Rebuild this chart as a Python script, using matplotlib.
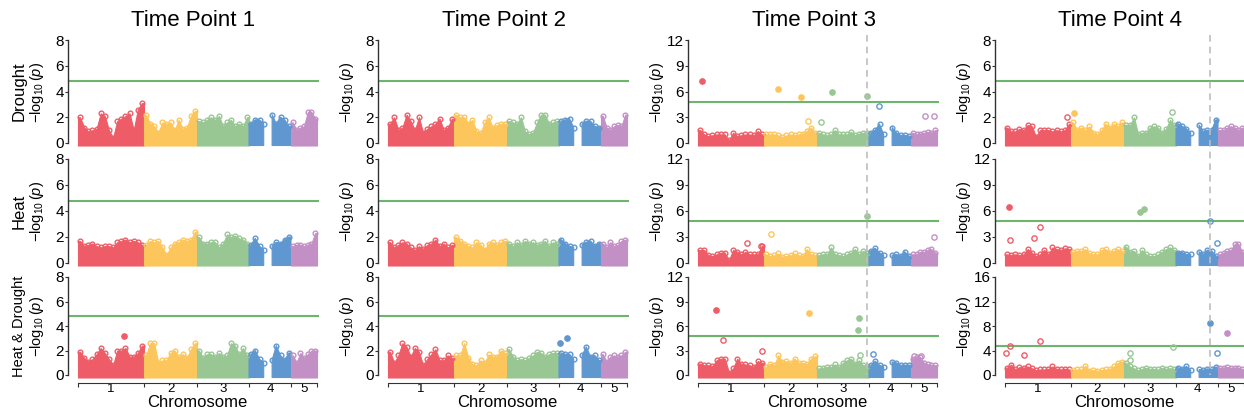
import numpy as np
import matplotlib
matplotlib.use("Agg")
import matplotlib.pyplot as plt
from matplotlib.transforms import blended_transform_factory

plt.rcParams["mathtext.fontset"] = "custom"
plt.rcParams["mathtext.rm"] = "Liberation Sans"
plt.rcParams["mathtext.it"] = "Liberation Sans:italic"

nan = np.nan

# ---- genome layout -------------------------------------------------------
chrom_names = ["1", "2", "3", "4", "5"]
chrom_len = [66, 53, 52, 42, 26]          # relative marker span per chromosome
chrom_colors = ["#EE5D67", "#FDC65C", "#98C794", "#5F97D0", "#C390C6"]

time_points = ["Time Point 1", "Time Point 2", "Time Point 3", "Time Point 4"]
treatments = ["Drought", "Heat", "Heat & Drought"]
treatment_fontsize = [12, 12, 10.5]
threshold = 4.8

# y-axis maximum per (treatment, time point)
y_max = [[8, 8, 12, 8],
         [8, 8, 12, 12],
         [8, 8, 12, 16]]

# marked lead SNP per time point: (chromosome index, position)
lead_snp = [None, None, (2, 49.7), (3, 33.9)]

# ---- upper -log10(p) envelope: per chromosome, evenly spaced bins ----------
drought_tp1 = [
    [2.0, 1.2, 0.9, 1.0, 1.1, 2.3, 2.1, 1.0, 0.4, 1.7, 1.9, 2.1, 2.3, 1.0, 2.6, 3.1],
    [2.2, 1.5, 1.3, 0.8, 1.6, 1.5, 1.6, 1.0, 1.8, 1.1, 1.2, 2.1, 2.5],
    [1.7, 1.6, 1.8, 2.0, 1.8, 2.1, 1.3, 1.6, 1.8, 1.3, 1.5, 1.3, 2.0],
    [1.5, 1.8, 1.8, 1.5, nan, 2.2, 1.5, 2.0, 1.8, 1.3],
    [1.6, 1.0, 1.2, 1.3, 2.4, 2.4, 1.9],
]
heat_tp1 = [
    [1.7, 1.3, 1.4, 1.5, 1.3, 1.2, 1.3, 1.3, 1.2, 1.6, 1.7, 1.8, 1.6, 1.7, 1.6, 1.4],
    [1.4, 1.7, 1.6, 1.7, 1.2, 0.6, 1.2, 1.5, 1.6, 1.8, 1.7, 1.8, 2.4],
    [2.0, 1.5, 1.5, 1.6, 1.6, 1.2, 1.5, 2.2, 2.0, 2.1, 1.9, 1.8, 1.5],
    [1.4, 1.9, 1.3, 1.0, nan, 1.3, 1.6, 1.5, 1.8, 2.0],
    [1.3, 1.4, 1.4, 1.3, 1.4, 1.5, 2.3],
]
heatdrought_tp1 = [
    [1.9, 1.4, 1.1, 1.3, 1.7, 2.2, 1.8, 1.3, 0.8, 2.0, 2.0, 2.2, 1.5, 1.5, 1.8, 2.4],
    [1.6, 2.6, 2.6, 1.0, 1.2, 1.2, 1.8, 2.0, 1.5, 1.7, 1.4, 2.1, 2.6],
    [2.0, 1.4, 1.7, 1.7, 1.5, 1.8, 1.5, 1.6, 2.6, 2.4, 1.7, 2.2, 1.6],
    [1.7, 2.0, 1.3, 1.0, nan, 1.2, 2.4, 1.6, 1.2, 1.8],
    [1.6, 1.0, 1.8, 1.4, 1.7, 2.0, 2.0],
]
drought_tp2 = [
    [1.5, 2.0, 1.0, 1.2, 2.2, 1.7, 1.0, 2.0, 0.8, 1.1, 1.3, 1.5, 1.9, 1.0, 1.2, 1.9],
    [2.2, 2.0, 2.0, 1.5, 1.8, 0.9, 0.8, 1.6, 2.0, 1.2, 1.4, 1.5, 1.5],
    [1.7, 1.6, 1.5, 2.0, 0.9, 0.7, 0.8, 1.6, 2.2, 2.2, 1.5, 1.6, 1.7],
    [1.7, 1.8, 1.9, 1.2, nan, 1.5, 1.7, 1.7, 1.3, 1.2],
    [2.1, 1.2, 1.0, 1.3, 1.4, 1.3, 2.2],
]
heat_tp2 = [
    [1.6, 1.2, 1.4, 1.6, 1.5, 1.2, 1.0, 1.3, 1.1, 1.4, 1.5, 1.8, 1.3, 1.5, 1.2, 1.4],
    [2.0, 1.7, 1.5, 1.3, 1.2, 1.6, 1.4, 1.0, 1.5, 1.6, 1.4, 1.6, 1.7],
    [1.5, 1.3, 1.6, 1.4, 1.7, 1.5, 1.6, 1.4, 1.5, 1.7, 1.3, 1.6, 1.5],
    [1.8, 1.5, 1.3, 1.2, nan, 1.4, 1.6, 1.7, 1.3, 1.5],
    [1.5, 1.2, 1.6, 1.3, 1.4, 1.7, 1.8],
]
heatdrought_tp2 = [
    [1.9, 1.0, 1.6, 2.6, 2.3, 1.5, 2.2, 1.9, 0.8, 1.3, 1.7, 2.1, 1.2, 1.2, 1.6, 1.4],
    [1.6, 1.6, 2.6, 1.4, 0.9, 0.8, 1.2, 1.0, 1.7, 1.5, 1.5, 2.0, 1.8],
    [2.1, 1.5, 1.2, 1.3, 1.2, 1.4, 1.6, 1.9, 1.8, 1.5, 1.7, 1.8, 1.8],
    [1.8, 1.7, 1.7, 1.3, nan, 1.6, 2.3, 1.5, 1.6, 1.2],
    [1.7, 1.1, 1.5, 1.6, 1.5, 1.6, 1.9],
]
drought_tp3 = [
    [1.5, 1.0, 0.8, 0.9, 1.0, 1.0, 1.0, 0.3, 1.2, 0.8, 0.9, 1.0, 1.0, 0.9, 1.4, 1.0],
    [1.0, 1.0, 1.0, 0.9, 0.7, 0.9, 1.0, 0.9, 1.0, 1.1, 1.4, 1.8, 1.2],
    [1.2, 1.0, 0.9, 1.0, 1.5, 1.0, 1.0, 1.0, 1.3, 0.9, 1.1, 1.2, 1.2],
    [1.2, 1.5, 2.2, 1.0, nan, 1.8, 1.2, 0.9, 0.9, 0.8],
    [1.2, 1.0, 1.1, 1.2, 1.3, 1.2, 1.5],
]
heat_tp3 = [
    [1.5, 1.5, 0.9, 0.8, 1.0, 1.2, 1.2, 0.3, 1.5, 1.3, 1.0, 1.3, 1.0, 1.0, 1.0, 2.0],
    [1.0, 0.8, 0.9, 1.1, 0.7, 0.8, 0.9, 1.1, 0.9, 0.8, 1.6, 1.0, 0.9],
    [0.9, 1.0, 1.0, 1.8, 1.0, 0.9, 0.8, 1.0, 1.2, 1.6, 1.0, 1.4, 1.2],
    [1.4, 1.7, 1.2, 0.9, nan, 0.9, 1.0, 0.8, 1.3, 0.8],
    [1.0, 1.0, 1.3, 1.3, 1.5, 1.6, 1.2],
]
heatdrought_tp3 = [
    [1.4, 1.2, 1.2, 1.1, 1.8, 2.0, 2.0, 0.3, 0.8, 2.0, 1.3, 1.3, 1.2, 1.0, 1.7, 1.5],
    [1.0, 1.4, 1.2, 2.4, 1.6, 1.7, 1.5, 2.0, 1.5, 1.5, 1.3, 2.0, 2.3],
    [0.8, 0.9, 1.0, 1.0, 1.3, 1.0, 1.5, 1.8, 2.0, 1.4, 1.8, 1.2, 1.1],
    [1.2, 1.7, 1.2, 1.0, nan, 1.6, 1.5, 1.2, 1.2, 1.2],
    [2.0, 2.2, 2.2, 1.5, 1.3, 1.2, 1.2],
]
drought_tp4 = [
    [1.2, 0.9, 0.9, 1.1, 1.0, 1.4, 1.3, 0.5, 1.0, 1.0, 1.0, 0.9, 1.0, 0.9, 1.0, 1.5],
    [1.6, 1.0, 1.2, 1.0, 1.3, 0.8, 0.7, 1.0, 1.5, 1.2, 1.5, 1.3, 1.6],
    [1.4, 1.4, 2.0, 0.7, 0.8, 0.8, 1.2, 1.3, 1.2, 0.8, 1.1, 1.8, 1.4],
    [1.5, 1.3, 1.1, 0.8, nan, 1.4, 0.9, 1.0, 1.0, 1.8],
    [1.0, 1.0, 1.2, 1.3, 1.2, 1.0, 1.2],
]
heat_tp4 = [
    [1.0, 0.9, 1.0, 0.9, 1.0, 1.6, 1.2, 0.8, 1.0, 1.5, 1.0, 1.8, 1.6, 1.5, 1.7, 1.6],
    [1.3, 1.4, 1.4, 1.6, 1.1, 1.0, 1.0, 1.5, 1.6, 1.2, 1.4, 1.6, 1.4],
    [1.9, 1.3, 1.4, 0.8, 1.5, 1.0, 0.8, 0.8, 1.0, 1.3, 1.6, 1.8, 1.5],
    [1.2, 1.2, 1.0, 1.0, nan, 1.3, 1.0, 1.5, 1.4, 0.8],
    [1.0, 1.2, 1.4, 1.5, 2.2, 2.2, 1.3],
]
heatdrought_tp4 = [
    [1.2, 1.7, 0.9, 1.3, 1.2, 1.4, 1.1, 0.8, 0.9, 0.9, 1.0, 1.4, 1.0, 0.9, 1.0, 0.9],
    [0.8, 0.9, 0.9, 1.5, 0.7, 0.8, 0.7, 0.8, 0.9, 1.0, 1.4, 2.0, 2.2],
    [2.0, 1.4, 1.1, 0.8, 1.0, 1.2, 1.0, 1.0, 0.9, 1.2, 1.0, 1.1, 1.0],
    [1.2, 1.0, 1.4, 0.8, nan, 0.9, 0.8, 1.0, 0.9, 1.3],
    [1.2, 1.2, 1.3, 1.2, 1.2, 1.2, 1.0],
]

# ---- individual SNPs standing out: (chromosome index, position, -log10 p, significant)
hits_heatdrought_tp1 = [(0, 46.1, 3.2, True)]
hits_heatdrought_tp2 = [(3, 1.0, 2.65, True), (3, 8.3, 3.0, True)]
hits_drought_tp3 = [(0, 4.0, 7.2, True), (1, 14.3, 6.3, True), (1, 37.3, 5.4, True),
                    (1, 44.0, 2.6, False), (2, 4.4, 2.4, False), (2, 15.4, 5.9, True),
                    (2, 49.7, 5.5, True), (3, 9.7, 4.3, False), (4, 13.5, 3.1, False),
                    (4, 23.0, 3.1, False)]
hits_heat_tp3 = [(0, 48.7, 2.3, False), (0, 63.3, 2.0, False), (1, 7.3, 3.3, False),
                 (2, 49.7, 5.4, True), (4, 23.3, 3.0, False)]
hits_heatdrought_tp3 = [(0, 18.3, 8.0, True), (0, 25.0, 4.3, False), (0, 64.0, 2.9, False),
                        (1, 45.0, 7.6, True), (2, 41.6, 7.0, True), (2, 40.6, 5.45, True),
                        (2, 43.3, 2.5, False), (3, 4.3, 2.6, False), (4, 3.4, 2.3, False),
                        (4, 9.5, 2.3, False)]
hits_drought_tp4 = [(0, 62.0, 2.0, False), (1, 3.4, 2.3, True), (2, 48.4, 2.4, False)]
hits_heat_tp4 = [(0, 4.0, 6.5, True), (0, 5.3, 2.7, False), (0, 29.2, 2.9, False),
                 (0, 34.8, 4.1, False), (2, 16.1, 5.9, True), (2, 20.1, 6.2, True),
                 (3, 33.9, 4.9, False), (3, 40.6, 2.3, False)]
hits_heatdrought_tp4 = [(0, 1.3, 3.6, False), (0, 5.3, 4.7, False), (0, 18.6, 3.3, False),
                        (0, 35.5, 5.6, False), (2, 5.9, 3.6, False), (2, 6.3, 2.5, False),
                        (2, 49.0, 4.5, False), (3, 33.9, 8.5, True), (3, 40.6, 3.6, False),
                        (4, 9.0, 6.8, True)]

envelopes = [[drought_tp1, drought_tp2, drought_tp3, drought_tp4],
             [heat_tp1, heat_tp2, heat_tp3, heat_tp4],
             [heatdrought_tp1, heatdrought_tp2, heatdrought_tp3, heatdrought_tp4]]
hits = [[[], [], hits_drought_tp3, hits_drought_tp4],
        [[], [], hits_heat_tp3, hits_heat_tp4],
        [hits_heatdrought_tp1, hits_heatdrought_tp2, hits_heatdrought_tp3, hits_heatdrought_tp4]]

# ---- figure ---------------------------------------------------------------
W, H = 1244, 417
fig = plt.figure(figsize=(W / 100, H / 100), dpi=100)

chrom_start = np.concatenate([[0], np.cumsum(chrom_len)[:-1]])
genome_len = float(np.sum(chrom_len))

col_left = [68, 378, 688, 995]                 # pixel x of the y-axis line
row_px = [(40, 143), (159, 263), (277, 375)]   # pixel y of ymax and of 0
ax_w = 251
x_lo = -10.0

FONT = "Liberation Sans"

axes = {}
for r in range(3):
    for c in range(4):
        ytop, y0 = row_px[r]
        ym = y_max[r][c]
        s = (y0 - ytop) / ym
        top_px, bot_px = ytop - 3, y0 + 5
        ax_h = bot_px - top_px
        ax = fig.add_axes([col_left[c] / W, 1 - bot_px / H, ax_w / W, ax_h / H])
        ax.set_xlim(x_lo, x_lo + ax_w)
        ax.set_ylim(-5 / s, ym + 3 / s)
        axes[(r, c)] = ax

        base = -2.5 / s
        env = envelopes[r][c]
        for k in range(5):
            vals = np.asarray(env[k], dtype=float)
            n = len(vals)
            centers = chrom_start[k] + (np.arange(n) + 0.5) * chrom_len[k] / n
            xs = np.concatenate([[chrom_start[k]], centers, [chrom_start[k] + chrom_len[k]]])
            ys = np.concatenate([[vals[0]], vals, [vals[-1]]])
            col = chrom_colors[k]
            ax.fill_between(xs, base, ys, color=col, lw=0.8, edgecolor=col, zorder=3)
            ax.plot(centers, vals, "o", mfc="none", mec=col, ms=3.4, mew=1.0, zorder=4)

        for (k, pos, val, sig) in hits[r][c]:
            col = chrom_colors[k]
            ax.plot(chrom_start[k] + pos, val, "o", mfc=col if sig else "none",
                    mec=col, ms=3.8, mew=1.0, zorder=5)

        ax.axhline(threshold, color="#6DB56D", lw=1.5, zorder=2)

        for sp in ["top", "right"]:
            ax.spines[sp].set_visible(False)
        ax.spines["left"].set_bounds(0, ym)
        ax.spines["left"].set_color("#333333")
        ax.spines["left"].set_linewidth(1.0)
        ticks = np.linspace(0, ym, 5)
        ax.set_yticks(ticks)
        ax.set_yticklabels([f"{int(v)}" for v in ticks], fontsize=11, family=FONT)
        ax.tick_params(axis="y", length=2, width=0.8, pad=1, color="#333333")
        ax.set_ylabel(r"$-\log_{10}(\mathit{p})$", fontsize=10.5)
        ax.yaxis.set_label_coords(-22 / ax_w, 0.5)
        ax.patch.set_alpha(0)

        if r < 2:
            ax.spines["bottom"].set_visible(False)
            ax.set_xticks([])
        else:
            ax.spines["bottom"].set_position(("outward", 2))
            ax.spines["bottom"].set_bounds(0, genome_len)
            ax.spines["bottom"].set_color("#333333")
            bounds = list(chrom_start) + [genome_len]
            ax.set_xticks(bounds)
            ax.set_xticklabels([])
            ax.tick_params(axis="x", which="major", length=3, width=0.8, color="#333333")
            mids = chrom_start + np.asarray(chrom_len) / 2
            ax.set_xticks(mids, minor=True)
            ax.set_xticklabels(chrom_names, minor=True, fontsize=9.5, family=FONT)
            ax.tick_params(axis="x", which="minor", length=0, pad=0.5)
            ax.set_xlabel("Chromosome", fontsize=12, family=FONT)
            ax.xaxis.set_label_coords((genome_len / 2 - x_lo) / ax_w, -15 / ax_h)

# dashed marker for the lead SNP, running through the whole column
for c in range(4):
    if lead_snp[c] is None:
        continue
    k, pos = lead_snp[c]
    xg = chrom_start[k] + pos
    ax_top = axes[(0, c)]
    tr = blended_transform_factory(ax_top.transData, fig.transFigure)
    fig.add_artist(plt.Line2D([xg, xg], [1 - 35 / H, 1 - 375 / H], transform=tr,
                              color="#BDBDBD", lw=1.2, ls=(0, (4, 3)), zorder=1))

# column titles
for c in range(4):
    xc = (col_left[c] + ax_w / 2) / W
    fig.text(xc, 1 - 20 / H, time_points[c], ha="center", va="center",
             fontsize=16, family=FONT)

# row labels
for r in range(3):
    ytop, y0 = row_px[r]
    yc = 1 - ((ytop + y0) / 2) / H
    fig.text(19 / W, yc, treatments[r], rotation=90, ha="center", va="center",
             fontsize=treatment_fontsize[r], family=FONT)

fig.savefig("out.png", dpi=100)
